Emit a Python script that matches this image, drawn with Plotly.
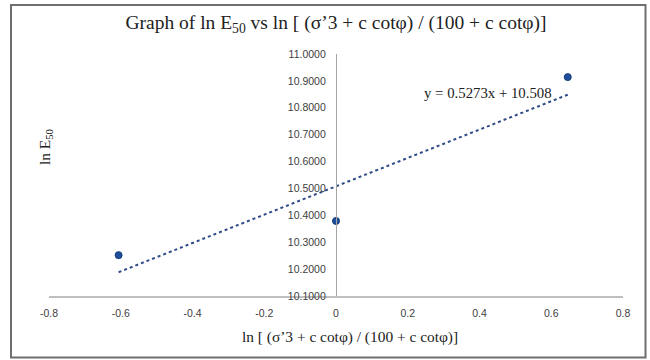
import plotly.graph_objects as go

# data
x_vals = [-0.606, 0.0, 0.646]
y_vals = [10.252, 10.379, 10.914]
slope = 0.5273
intercept = 10.508
x_ticks = [-0.8, -0.6, -0.4, -0.2, 0, 0.2, 0.4, 0.6, 0.8]
x_ticktext = ["-0.8", "-0.6", "-0.4", "-0.2", "0", "0.2", "0.4", "0.6", "0.8"]
y_ticks = [10.1, 10.2, 10.3, 10.4, 10.5, 10.6, 10.7, 10.8, 10.9, 11.0]
y_ticktext = ["10.1000", "10.2000", "10.3000", "10.4000", "10.5000",
              "10.6000", "10.7000", "10.8000", "10.9000", "11.0000"]

trend_x = [min(x_vals), max(x_vals)]
trend_y = [intercept + slope * v for v in trend_x]

serif = "Liberation Serif, Times New Roman, serif"
sans = "Liberation Sans, Arial, sans-serif"

fig = go.Figure()
fig.add_trace(go.Scatter(x=trend_x, y=trend_y, mode="lines",
                         line=dict(color="#2E4A87", width=2, dash="dot"),
                         showlegend=False, hoverinfo="skip"))
fig.add_trace(go.Scatter(x=x_vals, y=y_vals, mode="markers",
                         marker=dict(color="#1F4E9B", size=7,
                                     line=dict(color="#163D7A", width=1)),
                         showlegend=False))

fig.update_layout(
    width=650, height=360,
    margin=dict(l=49, r=27, t=54, b=64),
    paper_bgcolor="white", plot_bgcolor="white",
    title=dict(text="Graph of ln E<sub>50</sub> vs ln [ (σ’3 + c cotφ) / (100 + c cotφ)]",
               x=0.5, xref="paper", xanchor="center",
               y=1 - 22 / 360, yref="container", yanchor="middle",
               font=dict(family=serif, size=19.5, color="#222222")),
    xaxis=dict(range=[-0.8, 0.8], tickvals=x_ticks, ticktext=x_ticktext,
               showgrid=False, zeroline=False, showline=True,
               linecolor="#BFBFBF", linewidth=1.5, ticks="",
               ticklabelstandoff=7, automargin=False,
               tickfont=dict(family=sans, size=10.5, color="#404040")),
    yaxis=dict(range=[10.1, 11.0], tickvals=y_ticks, ticktext=y_ticktext,
               showgrid=False, zeroline=False, showline=True,
               linecolor="#A6A6A6", linewidth=1.2, ticks="",
               anchor="free", position=0.5, ticklabelstandoff=8, automargin=False,
               tickfont=dict(family=sans, size=10.5, color="#404040")),
)

fig.add_annotation(text="ln [ (σ’3 + c cotφ) / (100 + c cotφ)]",
                   xref="paper", yref="paper", x=0.524, y=(296 - 337) / 242,
                   showarrow=False, xanchor="center", yanchor="middle",
                   font=dict(family=serif, size=15.4, color="#222222"))
fig.add_annotation(text="ln E<sub>50</sub>", textangle=-90,
                   xref="paper", yref="paper", x=(45 - 49) / 574, y=(296 - 147) / 242,
                   showarrow=False, xanchor="center", yanchor="middle",
                   font=dict(family=serif, size=15.4, color="#222222"))
fig.add_annotation(text="y = 0.5273x + 10.508",
                   xref="paper", yref="paper", x=(488 - 49) / 574, y=(296 - 93) / 242,
                   showarrow=False, xanchor="center", yanchor="middle",
                   font=dict(family=serif, size=14.8, color="#222222"))

fig.add_shape(type="rect", xref="paper", yref="paper",
              x0=(11 - 49) / 574, x1=(645.5 - 49) / 574,
              y0=(296 - 357.5) / 242, y1=(296 - 5) / 242,
              line=dict(color="#6E6E6E", width=2), fillcolor="rgba(0,0,0,0)")

fig.write_html("out.html", config={"displayModeBar": False},
               post_script="document.body.style.margin='0';document.body.style.overflow='hidden';")
